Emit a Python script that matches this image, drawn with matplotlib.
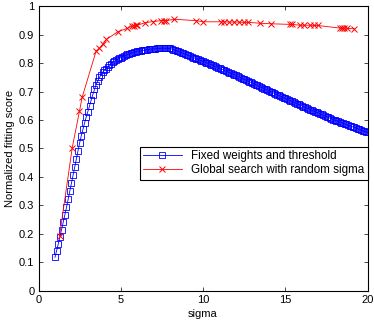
import numpy as np
import matplotlib
matplotlib.use("Agg")
import matplotlib.pyplot as plt

plt.rcParams['font.family'] = ['Liberation Sans', 'DejaVu Sans']

# fixed weights: sigma grid 1.0 .. 20.0, step 0.1
sigma_fixed = np.round(np.arange(1.0, 20.001, 0.1), 1)
score_fixed = [
    0.117, 0.140, 0.164, 0.189, 0.214, 0.240, 0.266, 0.293, 0.321, 0.349,
    0.377, 0.406, 0.435, 0.463, 0.492, 0.520, 0.545, 0.568, 0.590, 0.611,
    0.630, 0.650, 0.670, 0.690, 0.708, 0.725, 0.738, 0.750, 0.760, 0.768,
    0.775, 0.781, 0.787, 0.793, 0.798, 0.803, 0.807, 0.810, 0.814, 0.817,
    0.820, 0.823, 0.826, 0.828, 0.831, 0.833, 0.835, 0.837, 0.839, 0.841,
    0.842, 0.843, 0.844, 0.845, 0.846, 0.847, 0.848, 0.849, 0.850, 0.850,
    0.851, 0.851, 0.852, 0.852, 0.853, 0.853, 0.853, 0.853, 0.853, 0.852,
    0.852, 0.850, 0.848, 0.846, 0.844, 0.842, 0.840, 0.837, 0.835, 0.832,
    0.830, 0.828, 0.825, 0.823, 0.820, 0.818, 0.816, 0.814, 0.811, 0.809,
    0.807, 0.805, 0.802, 0.800, 0.797, 0.795, 0.793, 0.790, 0.788, 0.785,
    0.783, 0.780, 0.778, 0.775, 0.772, 0.770, 0.767, 0.765, 0.762, 0.760,
    0.757, 0.754, 0.752, 0.749, 0.746, 0.743, 0.741, 0.738, 0.735, 0.733,
    0.730, 0.727, 0.725, 0.722, 0.719, 0.716, 0.714, 0.711, 0.708, 0.706,
    0.703, 0.700, 0.698, 0.695, 0.692, 0.689, 0.687, 0.684, 0.681, 0.679,
    0.676, 0.673, 0.671, 0.668, 0.666, 0.663, 0.660, 0.658, 0.655, 0.653,
    0.650, 0.647, 0.645, 0.642, 0.640, 0.637, 0.635, 0.632, 0.630, 0.627,
    0.625, 0.622, 0.620, 0.617, 0.615, 0.612, 0.610, 0.607, 0.605, 0.602,
    0.600, 0.598, 0.596, 0.593, 0.591, 0.589, 0.587, 0.585, 0.582, 0.580,
    0.578, 0.576, 0.574, 0.572, 0.570, 0.568, 0.565, 0.563, 0.561, 0.559,
    0.557,
]

# global search: random sigma values
sigma_rand = [1.28, 2.05, 2.49, 2.65, 3.50, 3.70, 3.90, 4.13, 4.82, 5.39,
              5.69, 5.80, 5.90, 6.00, 6.50, 6.96, 7.45, 7.65, 7.77, 8.26,
              9.58, 10.00, 11.09, 11.30, 11.56, 11.86, 12.17, 12.47, 12.74, 13.44,
              14.10, 15.27, 15.41, 15.87, 16.16, 16.52, 16.77, 16.97, 18.30, 18.45,
              18.59, 18.76, 19.20]
score_rand = [0.193, 0.503, 0.632, 0.680, 0.843, 0.853, 0.867, 0.884, 0.911, 0.923,
              0.931, 0.932, 0.933, 0.934, 0.943, 0.947, 0.950, 0.950, 0.950, 0.955,
              0.950, 0.946, 0.946, 0.946, 0.945, 0.945, 0.945, 0.944, 0.944, 0.941,
              0.939, 0.937, 0.937, 0.934, 0.934, 0.934, 0.933, 0.933, 0.924, 0.923,
              0.924, 0.923, 0.921]

fig = plt.figure(figsize=(3.74, 3.23), dpi=100)
ax = fig.add_axes([0.103, 0.1006, 0.880, 0.8794])

ax.plot(sigma_fixed, score_fixed, '-s', color='#0000ff', mfc='none', ms=4.5,
        mew=0.6, lw=0.6, label='Fixed weights and threshold')
ax.plot(sigma_rand, score_rand, '-x', color='#ff0000', ms=4, mew=0.7, lw=0.6,
        label='Global search with random sigma')

ax.set_xlim(0, 20)
ax.set_ylim(0, 1)
ax.set_xticks([0, 5, 10, 15, 20])
ax.set_yticks(np.round(np.arange(0, 1.01, 0.1), 1))
ax.set_yticklabels(['0', '0.1', '0.2', '0.3', '0.4', '0.5', '0.6', '0.7', '0.8', '0.9', '1'])
ax.tick_params(direction='in', top=True, right=True, length=3, width=0.5,
               labelsize=8, pad=3)
for s in ax.spines.values():
    s.set_linewidth(0.8)

ax.set_xlabel('sigma', fontsize=8, labelpad=3)
ax.set_ylabel('Normalized fitting score', fontsize=8, labelpad=3)

leg = ax.legend(loc='upper right', bbox_to_anchor=(1.0, 0.506), fontsize=8.4,
                fancybox=False, edgecolor='black', framealpha=1,
                borderpad=0.3, labelspacing=0.15, handlelength=3.3, borderaxespad=0)
leg.get_frame().set_linewidth(0.8)

fig.savefig('out.png', dpi=100)
